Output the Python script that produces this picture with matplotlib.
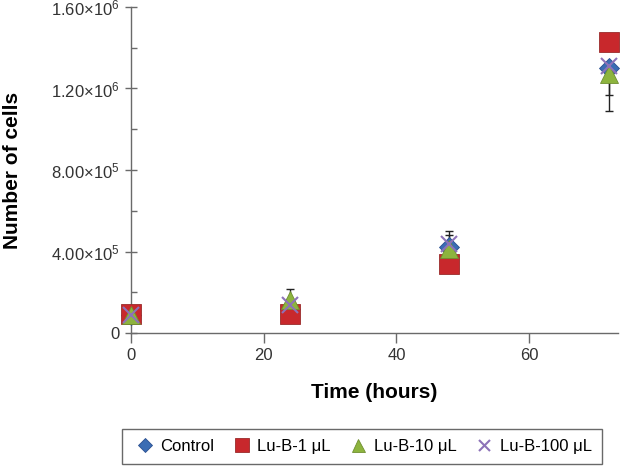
import matplotlib
matplotlib.use('Agg')
import matplotlib.pyplot as plt
from matplotlib.lines import Line2D
from matplotlib.ticker import FixedLocator, FuncFormatter

plt.rcParams.update({
    'font.family': ['Liberation Sans', 'DejaVu Sans'],
    'mathtext.fontset': 'custom',
    'mathtext.rm': 'Liberation Sans',
    'mathtext.it': 'Liberation Sans',
    'font.size': 11,
})

# data
hours = [0, 24, 48, 72]
control = [90000, 120000, 420000, 1300000]
lu_b_1 = [95000, 95000, 340000, 1430000]
lu_b_10 = [90000, 160000, 410000, 1270000]
lu_b_100 = [90000, 135000, 435000, 1310000]
# error bars (lower, upper)
control_err = [[5000, 20000, 60000, 210000], [5000, 20000, 60000, 0]]
lu_b_1_err = [[5000, 10000, 30000, 30000], [5000, 10000, 30000, 30000]]
lu_b_10_err = [[5000, 55000, 40000, 100000], [5000, 55000, 40000, 20000]]
lu_b_100_err = [[5000, 30000, 70000, 60000], [5000, 30000, 65000, 20000]]
labels = ['Control', 'Lu-B-1 \u03bcL', 'Lu-B-10 \u03bcL', 'Lu-B-100 \u03bcL']

AXIS = '#6a6a6a'

fig = plt.figure(figsize=(6.29, 4.66), dpi=100)
ax = fig.add_axes([0.2083, 0.2854, 0.7742, 0.6996])

series = [
    (control, control_err, 'D', '#3B6DB4', 10, '#2a5090'),
    (lu_b_1, lu_b_1_err, 's', '#C8282C', 14, '#9a2a2a'),
    (lu_b_10, lu_b_10_err, '^', '#8DB43E', 13, '#6f8f30'),
    (lu_b_100, lu_b_100_err, 'x', '#8D72B8', 11, '#8D72B8'),
]

for vals, err, m, col, ms, ec in series:
    ax.errorbar(hours, vals, yerr=err, fmt='none', ecolor='#222222',
                elinewidth=1.0, capsize=3, capthick=1.0, zorder=2, clip_on=False)

handles = []
for (vals, err, m, col, ms, ec), lab in zip(series, labels):
    if m == 'x':
        kw = dict(color=col, markeredgewidth=1.5)
    else:
        kw = dict(markerfacecolor=col, markeredgecolor=ec, markeredgewidth=0.6)
    ax.plot(hours, vals, linestyle='none', marker=m, markersize=ms,
            zorder=3, clip_on=False, **kw)
    handles.append(Line2D([], [], linestyle='none', marker=m,
                          markersize=ms * 0.72, label=lab, **kw))

ax.set_xlim(0, 73.4)
ax.set_ylim(0, 1.6e6)
ax.set_xticks([0, 20, 40, 60])
ax.yaxis.set_major_locator(FixedLocator([0, 4e5, 8e5, 1.2e6, 1.6e6]))
ax.yaxis.set_minor_locator(FixedLocator([2e5, 6e5, 1.0e6, 1.4e6]))


def fmt(v, pos):
    if v == 0:
        return '0'
    e = len(str(int(v))) - 1
    mant = v / 10 ** e
    return r'$%.2f{\times}10^{%d}$' % (mant, e)


ax.yaxis.set_major_formatter(FuncFormatter(fmt))

for s in ['top', 'right']:
    ax.spines[s].set_visible(False)
for s in ['left', 'bottom']:
    ax.spines[s].set_color(AXIS)
    ax.spines[s].set_linewidth(1.0)

ax.tick_params(axis='y', which='major', direction='inout', length=8, width=1.0,
               color=AXIS, labelsize=12, labelcolor='#333333', pad=4)
ax.tick_params(axis='y', which='minor', direction='in', length=4, width=1.0, color=AXIS)
ax.tick_params(axis='x', which='major', direction='out', length=7, width=1.0,
               color=AXIS, labelsize=12, labelcolor='#333333', pad=4)

ax.set_xlabel('Time (hours)', fontsize=15, fontweight='bold', labelpad=14)
ax.set_ylabel('Number of cells', fontsize=15, fontweight='bold', labelpad=21)

leg = fig.legend(handles=handles, loc='upper left',
                 bbox_to_anchor=(0.194, -0.1, 0.763, 0.179),
                 mode='expand', ncol=4, frameon=True, fancybox=False,
                 fontsize=12, handletextpad=0.2, borderpad=0.6,
                 handlelength=1.5, columnspacing=1.0, borderaxespad=0)
leg.get_frame().set_edgecolor('#444444')
leg.get_frame().set_linewidth(1.0)

fig.savefig('out.png', dpi=100, facecolor='white')
